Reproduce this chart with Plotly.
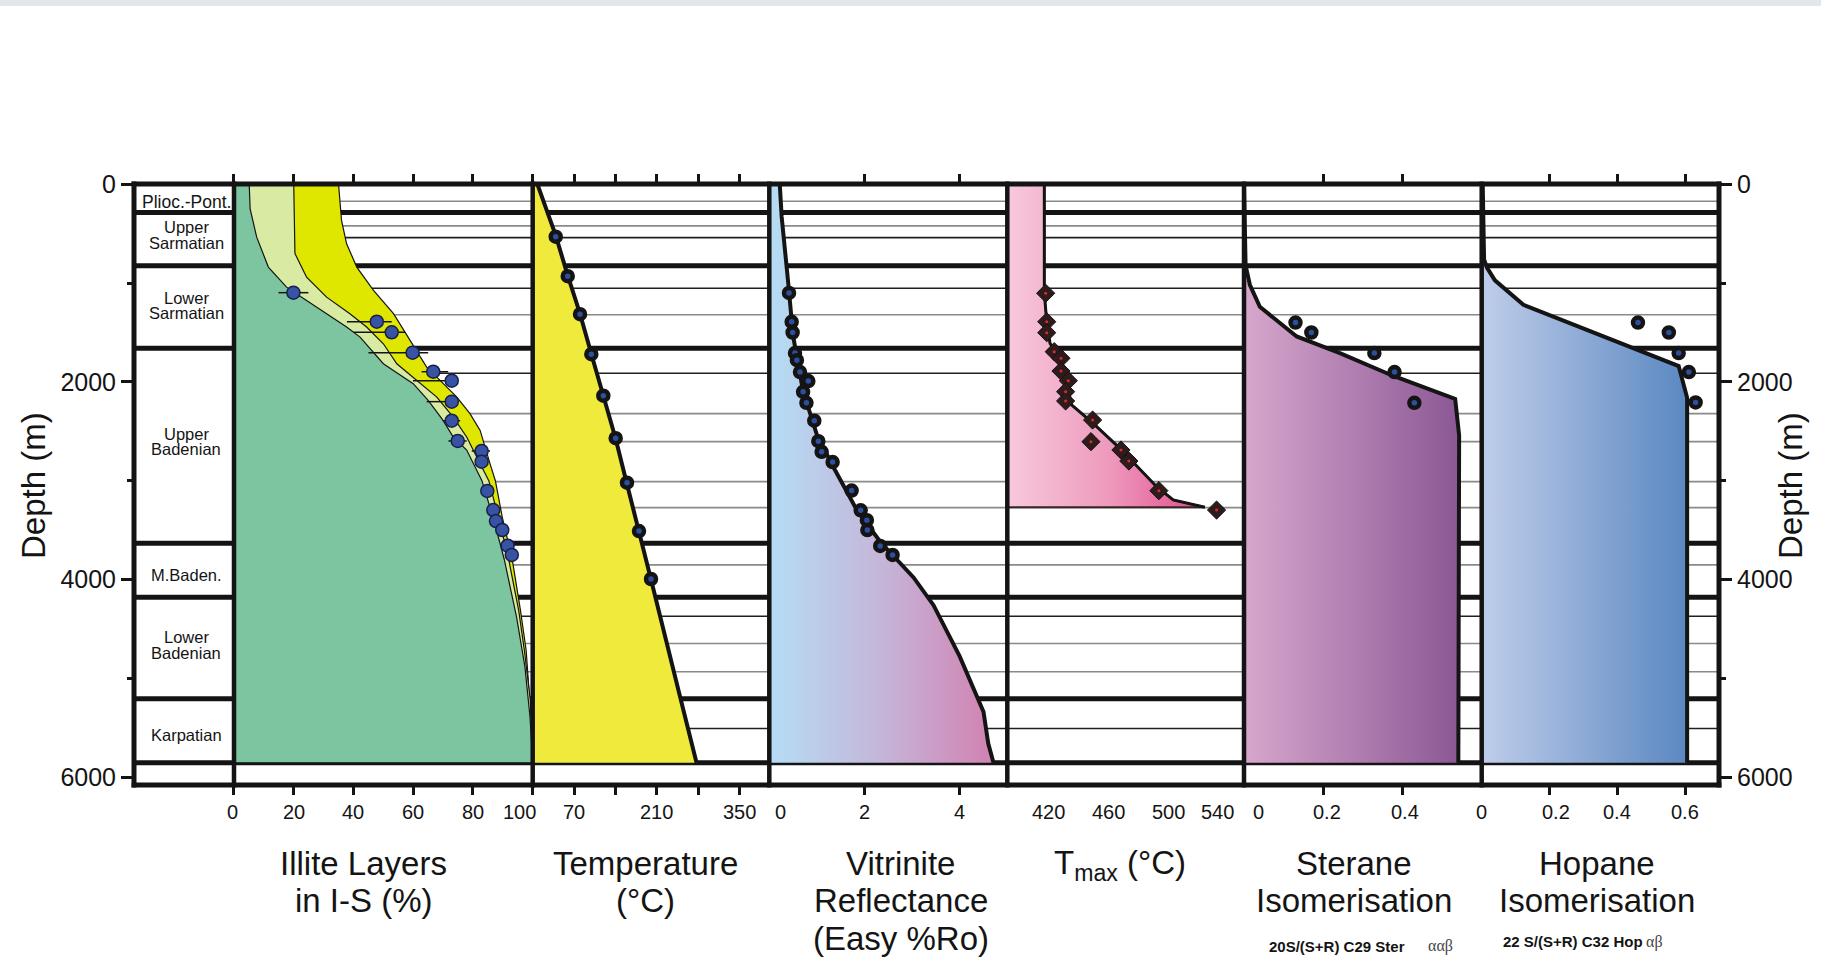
import plotly.graph_objects as go

FONT = "Liberation Sans, Arial, Helvetica, sans-serif"
INK = "#141414"

# ---------------- data ----------------
DEPTH_MAJOR = [0, 2000, 4000, 6000]
DEPTH_MINOR = [1000, 3000, 5000]

STRAT_BOUNDARIES = [285, 825, 1660, 3632, 4180, 5207, 5855]
THIN_DARK_LINES = [540, 1052, 1912, 4372, 5508]
THIN_GRAY_LINES = [172, 421, 1320, 2321, 2605, 3009, 3273, 3852, 4648, 4933]
STRAT_TEXT = ["Plioc.-Pont.", "Upper", "Sarmatian", "Lower", "Sarmatian", "Upper", "Badenian",
              "M.Baden.", "Lower", "Badenian", "Karpatian"]
STRAT_TEXT_DEPTH = [176, 435, 591, 1148, 1306, 2527, 2682, 3954, 4585, 4747, 5577]

# Illite layers in I-S (%)
ILL_C1_PCT = [5.1, 5.4, 7.6, 11.5, 17.6, 24.3, 31.0, 37.7, 42.2, 50.0, 60.0, 65.0, 70.0, 73.4, 77.9,
              83.0, 87.0, 90.5, 94.6, 97.4, 99.1, 100]
ILL_C1_DEPTH = [0, 250, 535, 838, 1041, 1176, 1310, 1445, 1547, 1816, 2018, 2187, 2390, 2558, 2690,
                3000, 3400, 3800, 4380, 4885, 5391, 5855]
ILL_C2_PCT = [20.0, 20.4, 24.3, 31.0, 38.8, 44.4, 50.0, 54.5, 60.0, 67.9, 73.4, 77.9, 82.4, 85.3,
              88.5, 91.8, 95.3, 97.2, 99.2, 100]
ILL_C2_DEPTH = [0, 700, 940, 1142, 1310, 1445, 1614, 1816, 1951, 2154, 2356, 2558, 2828, 3000,
                3368, 3772, 4312, 4716, 5222, 5855]
ILL_C3_PCT = [35.0, 36.0, 37.7, 41.1, 46.7, 53.4, 58.9, 64.5, 70.1, 74.6, 79.0, 82.4, 85.7, 87.5,
              89.8, 93.2, 95.9, 97.8, 99.0, 99.8, 100]
ILL_C3_DEPTH = [0, 366, 602, 838, 1074, 1310, 1580, 1850, 2018, 2154, 2322, 2491, 2828, 3000,
                3368, 3806, 4312, 4716, 5222, 5700, 5855]
ILL_PTS_PCT = [19.9, 47.8, 52.8, 59.8, 66.7, 72.9, 72.9, 72.9, 74.9, 82.9, 82.9, 84.8, 86.8, 87.7,
               89.8, 91.6, 93.0]
ILL_PTS_DEPTH = [1097, 1391, 1498, 1704, 1897, 1988, 2200, 2393, 2598, 2699, 2808, 3104, 3297, 3408,
                 3499, 3658, 3752]
ILL_ERR_MINUS = [5, 10, 12.8, 14.8, 3.9, 13, 8.4, 3, 3.1, 3.3, 1.5, 2, 2, 2, 1.5, 1, 1]
ILL_ERR_PLUS = [5, 5, 4.5, 5.2, 5, 1, 1, 2.8, 3, 2.8, 1.5, 1, 1.5, 2, 1.5, 1, 1]

# Temperature (°C)
TEMP_LINE_C = [8, 39, 59, 80, 99, 119, 140, 159, 180, 200, 250, 277]
TEMP_LINE_DEPTH = [0, 520, 920, 1310, 1715, 2135, 2570, 3025, 3505, 4000, 5207, 5855]
TEMP_PTS_C = [38.9, 59.2, 80.0, 99.1, 119.4, 140.3, 159.4, 179.7, 200.0]
TEMP_PTS_DEPTH = [530, 930, 1315, 1720, 2140, 2570, 3020, 3510, 3995]

# Vitrinite reflectance (Easy %Ro)
VR_LINE = [0.22, 0.26, 0.40, 0.50, 0.71, 1.00, 1.34, 1.84, 2.33, 2.61, 3.03, 3.45, 4.00, 4.50, 4.60, 4.71]
VR_LINE_DEPTH = [0, 330, 1010, 1535, 2095, 2536, 2856, 3298, 3618, 3758, 3979, 4260, 4778, 5339, 5660, 5855]
VR_PTS = [0.414, 0.47, 0.49, 0.54, 0.58, 0.645, 0.82, 0.71, 0.78, 0.945, 1.03, 1.10, 1.33, 1.73, 1.92,
          2.05, 2.06, 2.33, 2.59]
VR_PTS_DEPTH = [1100, 1392, 1500, 1708, 1780, 1900, 1992, 2100, 2212, 2392, 2600, 2708, 2812, 3100,
                3300, 3400, 3500, 3660, 3752]

# Tmax (°C)
TMAX_LINE = [417.1, 417.1, 418.7, 420.9, 426.4, 432.0, 435.3, 449.7, 467.5, 492.0, 503.1, 524.2]
TMAX_LINE_DEPTH = [0, 1103, 1391, 1609, 1761, 2014, 2234, 2419, 2672, 3061, 3195, 3268]
TMAX_PTS = [418.0, 418.7, 418.7, 423.7, 428.2, 428.2, 433.1, 431.3, 431.3, 449.3, 448.2, 468.2, 473.5,
            493.5, 532.0]
TMAX_PTS_DEPTH = [1103, 1391, 1502, 1694, 1761, 1890, 1988, 2099, 2193, 2386, 2605, 2689, 2801,
                  3101, 3297]

# Sterane isomerisation
STER_LINE = [0.0, 0.004, 0.015, 0.040, 0.133, 0.242, 0.377, 0.533, 0.543, 0.541]
STER_LINE_DEPTH = [0, 820, 1020, 1240, 1540, 1708, 1940, 2172, 2540, 5855]
STER_PTS = [0.130, 0.170, 0.329, 0.380, 0.430]
STER_PTS_DEPTH = [1400, 1500, 1708, 1900, 2212]

# Hopane isomerisation
HOP_LINE = [0.003, 0.007, 0.015, 0.039, 0.123, 0.458, 0.581, 0.606, 0.606]
HOP_LINE_DEPTH = [0, 760, 840, 972, 1220, 1680, 1840, 2160, 5855]
HOP_PTS = [0.461, 0.552, 0.581, 0.611, 0.631]
HOP_PTS_DEPTH = [1400, 1500, 1708, 1900, 2208]

# tick labels
ILL_TICKS = [0, 20, 40, 60, 80, 100]
TEMP_TICKS = [70, 140, 210, 280, 350]
TEMP_LABELS = [70, 210, 350]
VR_TICKS = [2, 4]
VR_LABELS = [0, 2, 4]
TMAX_LABELS = [420, 460, 500, 540]
STER_TICKS = [0.2, 0.4]
STER_LABELS = [0, 0.2, 0.4]
HOP_TICKS = [0.2, 0.4, 0.6]
HOP_LABELS = [0, 0.2, 0.4, 0.6]

# ---------------- layout constants ----------------
DOMAINS = [0, 0.06309, 0.25155, 0.40082, 0.55098, 0.70032, 0.85029, 1.0]
RANGES = {"x": [0, 1], "x2": [0, 100], "x3": [0, 400], "x4": [0, 5], "x5": [392.4, 550.3],
          "x6": [0, 0.6], "x7": [0, 0.7]}
Y_RANGE = [6080, -3]

fig = go.Figure()


def polygon(xs, ds, x0):
    return [x0] + list(xs) + [x0], [ds[0]] + list(ds) + [ds[-1]]


# Illite bands
for xs, ds, col in [(ILL_C3_PCT, ILL_C3_DEPTH, "#dfe600"),
                    (ILL_C2_PCT, ILL_C2_DEPTH, "#d9eba3"),
                    (ILL_C1_PCT, ILL_C1_DEPTH, "#7cc5a0")]:
    px, py = polygon(xs, ds, RANGES["x2"][0])
    fig.add_trace(go.Scatter(x=px, y=py, xaxis="x2", yaxis="y", mode="lines", fill="toself",
                             fillcolor=col, line=dict(color=INK, width=1.2), hoverinfo="skip"))
fig.add_trace(go.Scatter(x=ILL_PTS_PCT, y=ILL_PTS_DEPTH, xaxis="x2", yaxis="y", mode="markers",
                         error_x=dict(type="data", array=ILL_ERR_PLUS, arrayminus=ILL_ERR_MINUS,
                                      color=INK, thickness=1.5, width=0),
                         marker=dict(size=13, color="#3953a4", line=dict(color="#18204a", width=1.5))))

# Temperature
px, py = polygon(TEMP_LINE_C, TEMP_LINE_DEPTH, 0)
fig.add_trace(go.Scatter(x=px, y=py, xaxis="x3", yaxis="y", mode="lines", fill="toself",
                         fillcolor="#f0ea3c", line=dict(width=0)))
fig.add_trace(go.Scatter(x=TEMP_LINE_C, y=TEMP_LINE_DEPTH, xaxis="x3", yaxis="y", mode="lines",
                         line=dict(color=INK, width=4)))

# Vitrinite
px, py = polygon(VR_LINE, VR_LINE_DEPTH, 0)
fig.add_trace(go.Scatter(x=px, y=py, xaxis="x4", yaxis="y", mode="lines", fill="toself",
                         fillgradient=dict(type="horizontal", start=0, stop=4.8,
                                           colorscale=[[0, "#b5ddf5"], [0.5, "#c5b5d8"], [1, "#d27fb0"]]),
                         line=dict(width=0)))
fig.add_trace(go.Scatter(x=VR_LINE, y=VR_LINE_DEPTH, xaxis="x4", yaxis="y", mode="lines",
                         line=dict(color=INK, width=4)))

# Tmax
px, py = polygon(TMAX_LINE, TMAX_LINE_DEPTH, RANGES["x5"][0])
fig.add_trace(go.Scatter(x=px, y=py, xaxis="x5", yaxis="y", mode="lines", fill="toself",
                         fillgradient=dict(type="horizontal", start=392.4, stop=528,
                                           colorscale=[[0, "#f7c9dc"], [0.5, "#ee9abd"], [1, "#e0468a"]]),
                         line=dict(color="#3a2424", width=2)))
fig.add_trace(go.Scatter(x=TMAX_LINE, y=TMAX_LINE_DEPTH, xaxis="x5", yaxis="y", mode="lines",
                         line=dict(color=INK, width=3)))

# Sterane
px, py = polygon(STER_LINE, STER_LINE_DEPTH, 0)
fig.add_trace(go.Scatter(x=px, y=py, xaxis="x6", yaxis="y", mode="lines", fill="toself",
                         fillgradient=dict(type="horizontal", start=0, stop=0.54,
                                           colorscale=[[0, "#d8a7cd"], [1, "#8b5895"]]),
                         line=dict(width=0)))
fig.add_trace(go.Scatter(x=STER_LINE, y=STER_LINE_DEPTH, xaxis="x6", yaxis="y", mode="lines",
                         line=dict(color=INK, width=4)))

# Hopane
px, py = polygon(HOP_LINE, HOP_LINE_DEPTH, 0)
fig.add_trace(go.Scatter(x=px, y=py, xaxis="x7", yaxis="y", mode="lines", fill="toself",
                         fillgradient=dict(type="horizontal", start=0, stop=0.61,
                                           colorscale=[[0, "#bfcdea"], [1, "#5a87c1"]]),
                         line=dict(width=0)))
fig.add_trace(go.Scatter(x=HOP_LINE, y=HOP_LINE_DEPTH, xaxis="x7", yaxis="y", mode="lines",
                         line=dict(color=INK, width=4)))

# ringed markers
for xs, ds, xa in [(TEMP_PTS_C, TEMP_PTS_DEPTH, "x3"), (VR_PTS, VR_PTS_DEPTH, "x4"),
                   (STER_PTS, STER_PTS_DEPTH, "x6"), (HOP_PTS, HOP_PTS_DEPTH, "x7")]:
    fig.add_trace(go.Scatter(x=xs, y=ds, xaxis=xa, yaxis="y", mode="markers",
                             marker=dict(size=10, color="#2d4f9f", line=dict(color=INK, width=4.5))))

# Tmax diamonds
fig.add_trace(go.Scatter(x=TMAX_PTS, y=TMAX_PTS_DEPTH, xaxis="x5", yaxis="y", mode="markers",
                         marker=dict(symbol="diamond", size=14, color="#2e1c1c",
                                     line=dict(color="#1a1010", width=1))))
fig.add_trace(go.Scatter(x=TMAX_PTS, y=TMAX_PTS_DEPTH, xaxis="x5", yaxis="y", mode="markers",
                         marker=dict(symbol="circle", size=3, color="#e3262a")))

# right depth axis carrier
fig.add_trace(go.Scatter(x=[], y=[], xaxis="x7", yaxis="y2", mode="markers"))

# ---------------- axes ----------------
layout_axes = {}
names = ["x", "x2", "x3", "x4", "x5", "x6", "x7"]
tickvals = {"x": [], "x2": ILL_TICKS, "x3": TEMP_TICKS, "x4": VR_TICKS, "x5": [],
            "x6": STER_TICKS, "x7": HOP_TICKS}
for i, n in enumerate(names):
    key = "xaxis" if n == "x" else "xaxis" + n[1:]
    layout_axes[key] = dict(domain=[DOMAINS[i], DOMAINS[i + 1]], range=RANGES[n], autorange=False,
                            anchor="y", showgrid=False, zeroline=False, showline=False,
                            ticks="outside" if tickvals[n] else "", tickvals=tickvals[n],
                            ticklen=9, tickwidth=3, tickcolor=INK, showticklabels=False,
                            mirror="ticks", fixedrange=True)
yax = dict(range=Y_RANGE, autorange=False, showgrid=False, zeroline=False, showline=False,
           ticks="outside", tickvals=DEPTH_MAJOR, ticklen=12, tickwidth=2.5, tickcolor=INK,
           tickfont=dict(size=25, family=FONT, color=INK),
           minor=dict(ticks="outside", tickvals=DEPTH_MINOR, ticklen=6, tickwidth=2.5, tickcolor=INK),
           fixedrange=True)
layout_axes["yaxis"] = dict(yax, anchor="x", side="left")
layout_axes["yaxis2"] = dict(yax, anchor="x7", side="right", overlaying="y")

# ---------------- shapes ----------------
shapes = []
for d in THIN_GRAY_LINES:
    shapes.append(dict(type="line", xref="paper", yref="y", x0=DOMAINS[1], x1=1, y0=d, y1=d,
                       line=dict(color="#8a8a8a", width=1.6), layer="below"))
for d in THIN_DARK_LINES:
    shapes.append(dict(type="line", xref="paper", yref="y", x0=DOMAINS[1], x1=1, y0=d, y1=d,
                       line=dict(color="#202020", width=1.6), layer="below"))
for d in STRAT_BOUNDARIES:
    shapes.append(dict(type="line", xref="paper", yref="y", x0=0, x1=1, y0=d, y1=d,
                       line=dict(color=INK, width=5), layer="below"))
# frame and panel dividers
shapes.append(dict(type="line", xref="paper", yref="paper", x0=-0.0015, x1=1.0015, y0=1, y1=1,
                   line=dict(color=INK, width=5), layer="above"))
shapes.append(dict(type="line", xref="paper", yref="paper", x0=-0.0015, x1=1.0015, y0=0, y1=0,
                   line=dict(color=INK, width=5), layer="above"))
for i, xd in enumerate(DOMAINS):
    w = 5 if i in (0, len(DOMAINS) - 1) else 4.5
    shapes.append(dict(type="line", xref="paper", yref="paper", x0=xd, x1=xd, y0=-0.004, y1=1.004,
                       line=dict(color=INK, width=w), layer="above"))
# light band at very top of the page
shapes.append(dict(type="rect", xref="paper", yref="paper", x0=-0.09, x1=1.07, y0=1.296, y1=1.31,
                   fillcolor="#e3e6ea", line=dict(width=0), layer="below"))

# ---------------- annotations ----------------
ann = []
for t, d in zip(STRAT_TEXT, STRAT_TEXT_DEPTH):
    ann.append(dict(text=t, x=0.52, xref="x", y=d, yref="y", showarrow=False,
                    font=dict(size=17.5 if t.startswith("Plioc") else 16.5, family=FONT, color=INK),
                    xanchor="center", yanchor="middle"))

TICK_Y = -0.0444


def tick_labels(vals, xa, shifts=None):
    shifts = shifts or {}
    for v in vals:
        ann.append(dict(text=str(v), x=v, xref=xa, y=TICK_Y, yref="paper", showarrow=False,
                        xshift=shifts.get(v, 0), font=dict(size=20, family=FONT, color=INK),
                        xanchor="center", yanchor="middle"))


tick_labels(ILL_TICKS, "x2", {0: -1, 100: -13})
tick_labels(TEMP_LABELS, "x3")
tick_labels(VR_LABELS, "x4", {0: 11})
tick_labels(TMAX_LABELS, "x5", {540: -11})
tick_labels(STER_LABELS, "x6", {0: 14, 0.2: 4, 0.4: 3})
tick_labels(HOP_LABELS, "x7", {0.2: 6})

TITLE_FONT = dict(size=33, family=FONT, color=INK)
titles = [
    ("Illite Layers", 0.1451, -0.1314), ("in I-S (%)", 0.1451, -0.1930),
    ("Temperature", 0.3224, -0.1314), ("(°C)", 0.3224, -0.1930),
    ("Vitrinite", 0.4839, -0.1314), ("Reflectance", 0.4839, -0.1930), ("(Easy %Ro)", 0.4839, -0.2562),
    ("T<sub>max</sub> (°C)", 0.6221, -0.1330),
    ("Sterane", 0.7697, -0.1314), ("Isomerisation", 0.7697, -0.1930),
    ("Hopane", 0.9230, -0.1314), ("Isomerisation", 0.9230, -0.1930),
]
for t, x, y in titles:
    ann.append(dict(text=t, x=x, xref="paper", y=y, yref="paper", showarrow=False,
                    font=TITLE_FONT, xanchor="center", yanchor="middle"))
SUB_FONT = dict(size=15, family=FONT, color=INK)
GREEK_FONT = dict(size=16, family="Liberation Serif, Times New Roman, serif", color="#444444")
ann.append(dict(text="<b>20S/(S+R) C29 Ster</b>", x=0.7590, xref="paper", y=-0.2680, yref="paper",
                showarrow=False, font=SUB_FONT, xanchor="center", yanchor="middle"))
ann.append(dict(text="ααβ", x=0.8240, xref="paper", y=-0.2680, yref="paper",
                showarrow=False, font=GREEK_FONT, xanchor="center", yanchor="middle"))
ann.append(dict(text="<b>22 S/(S+R) C32 Hop</b>", x=0.9080, xref="paper", y=-0.2610, yref="paper",
                showarrow=False, font=SUB_FONT, xanchor="center", yanchor="middle"))
ann.append(dict(text="αβ", x=0.9590, xref="paper", y=-0.2610, yref="paper",
                showarrow=False, font=GREEK_FONT, xanchor="center", yanchor="middle"))
for x in (-0.0637, 1.0448):
    ann.append(dict(text="Depth (m)", x=x, xref="paper", y=0.4975, yref="paper", showarrow=False,
                    textangle=-90, font=dict(size=33, family=FONT, color=INK),
                    xanchor="center", yanchor="middle"))

fig.update_layout(width=1821, height=962, margin=dict(l=134, r=102, t=184, b=177, pad=0),
                  paper_bgcolor="white", plot_bgcolor="white", showlegend=False,
                  font=dict(family=FONT, color=INK), shapes=shapes, annotations=ann,
                  hovermode=False, **layout_axes)

fig.write_html("out.html", config={"displayModeBar": False},
               post_script="document.body.style.margin='0';document.body.style.overflow='hidden';")
